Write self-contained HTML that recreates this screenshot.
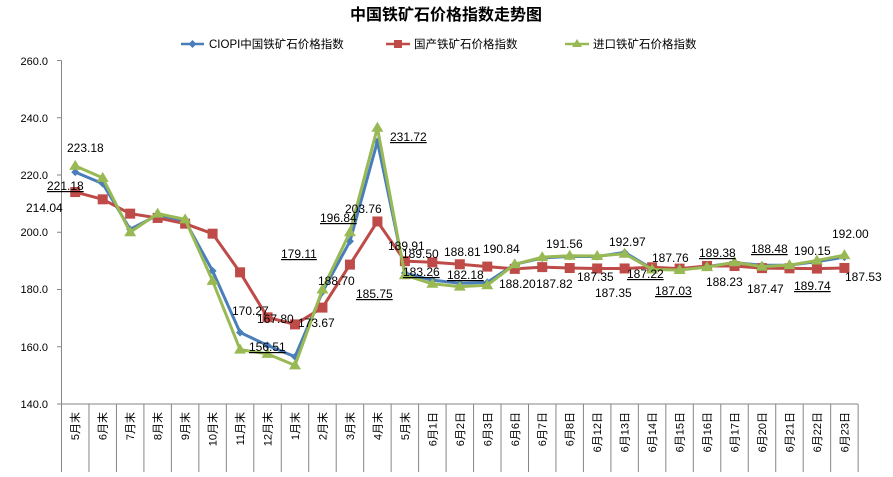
<!DOCTYPE html>
<html><head><meta charset="utf-8"><style>
body{margin:0;background:#fff}
svg text{font-family:"Liberation Sans","Noto Sans CJK SC",sans-serif;}
</style></head><body>
<svg id="s" width="893" height="472" xmlns="http://www.w3.org/2000/svg">
<rect width="893" height="472" fill="#fff"/>
<text x="446" y="20" font-size="16" font-weight="bold" text-anchor="middle" font-family="'Noto Serif CJK SC',serif">中国铁矿石价格指数走势图</text>
<g font-size="11.5">
<line x1="181" y1="44" x2="204" y2="44" stroke="#4a7ebb" stroke-width="2.5"/><path d="M192.5 40 l4 4 -4 4 -4 -4z" fill="#4a7ebb"/>
<text x="209" y="48">CIOPI中国铁矿石价格指数</text>
<line x1="386" y1="44" x2="410" y2="44" stroke="#be4b48" stroke-width="2.5"/><rect x="394" y="40" width="8" height="8" fill="#be4b48"/>
<text x="414" y="48">国产铁矿石价格指数</text>
<line x1="565" y1="44" x2="589" y2="44" stroke="#98b954" stroke-width="2.5"/><path d="M577 39 l5 8 h-10z" fill="#98b954"/>
<text x="593" y="48">进口铁矿石价格指数</text>
</g>
<g id="axes" stroke="#868686" stroke-width="1"></g>
<g font-size="11" text-anchor="end">
<text x="48" y="65">260.0</text><text x="48" y="122">240.0</text><text x="48" y="179">220.0</text><text x="48" y="236">200.0</text><text x="48" y="293">180.0</text><text x="48" y="351">160.0</text><text x="48" y="408">140.0</text>
</g>
<g id="xl" font-size="11"></g>
<g id="ser"></g>
<g font-size="12" fill="#000">
<text x="67" y="152">223.18</text>
<text x="47" y="190" text-decoration="underline">221.18</text>
<text x="26" y="212">214.04</text>
<text x="232" y="315">170.27</text>
<text x="257" y="323">167.80</text>
<text x="249" y="351" text-decoration="underline">156.51</text>
<text x="298" y="327">173.67</text>
<text x="281" y="258" text-decoration="underline">179.11</text>
<text x="320" y="222" text-decoration="underline">196.84</text>
<text x="318" y="285">188.70</text>
<text x="345" y="213">203.76</text>
<text x="356" y="298" text-decoration="underline">185.75</text>
<text x="390" y="141" text-decoration="underline">231.72</text>
<text x="388" y="250">189.91</text>
<text x="402" y="258">189.50</text>
<text x="444" y="256">188.81</text>
<text x="483" y="253">190.84</text>
<text x="403" y="276" text-decoration="underline">183.26</text>
<text x="447" y="279" text-decoration="underline">182.18</text>
<text x="499" y="288">188.20</text>
<text x="536" y="288">187.82</text>
<text x="546" y="248">191.56</text>
<text x="577" y="281">187.35</text>
<text x="595" y="297">187.35</text>
<text x="609" y="246">192.97</text>
<text x="627" y="278" text-decoration="underline">187.22</text>
<text x="652" y="262">187.76</text>
<text x="655" y="295" text-decoration="underline">187.03</text>
<text x="699" y="257" text-decoration="underline">189.38</text>
<text x="706" y="286">188.23</text>
<text x="751" y="253" text-decoration="underline">188.48</text>
<text x="747" y="293">187.47</text>
<text x="794" y="255">190.15</text>
<text x="794" y="290" text-decoration="underline">189.74</text>
<text x="832" y="238">192.00</text>
<text x="845" y="281">187.53</text>
</g>
</svg>
<script>
var NS="http://www.w3.org/2000/svg";
function el(p,t,a,txt){var e=document.createElementNS(NS,t);for(var k in a)e.setAttribute(k,a[k]);if(txt)e.textContent=txt;p.appendChild(e);return e;}
var cats=["5月末","6月末","7月末","8月末","9月末","10月末","11月末","12月末","1月末","2月末","3月末","4月末","5月末","6月1日","6月2日","6月3日","6月6日","6月7日","6月8日","6月12日","6月13日","6月14日","6月15日","6月16日","6月17日","6月20日","6月21日","6月22日","6月23日"];
var W=27.47,X0=61.5;
function X(i){return X0+W*(i+0.5);}
function Y(v){return 404-(v-140)*2.8625;}
var ax=document.getElementById("axes");
el(ax,"line",{x1:61.5,y1:60.5,x2:61.5,y2:404});
el(ax,"line",{x1:61.5,y1:404,x2:858,y2:404});
for(var v=140;v<=260;v+=20)el(ax,"line",{x1:57,y1:Y(v),x2:61.5,y2:Y(v)});
for(var i=0;i<=29;i++){var x=X0+W*i;el(ax,"line",{x1:x,y1:404,x2:x,y2:472});}
var xl=document.getElementById("xl");
cats.forEach(function(c,i){var x=X(i)+4;el(xl,"text",{x:0,y:0,transform:"translate("+x+",412) rotate(-90)","text-anchor":"end"},c);});
var blue=[221,217,201,206,204,186.5,165,160.5,156.51,179.11,196.84,231.72,185.75,183.26,182.18,182.5,188.8,191,191.56,191.5,192.97,187.22,187.03,188,189.38,188.48,188.5,189.74,191.3];
var red=[214.04,211.5,206.5,205,203,199.5,186,170.27,167.8,173.67,188.7,203.76,189.91,189.5,188.81,188,187.2,187.82,187.5,187.35,187.35,187.76,187.3,188.23,188.2,187.47,187.4,187.3,187.53];
var green=[223.18,219,200,206.5,204.5,183,159,157.5,153.5,180,200,236.5,185,182,181,181.5,188.8,191.3,191.8,191.7,192.5,187,186.8,187.8,189.5,188,188.5,190.15,192];
var g=document.getElementById("ser");
function line(d,c){el(g,"polyline",{points:d.map(function(v,i){return X(i)+","+Y(v)}).join(" "),fill:"none",stroke:c,"stroke-width":3,"stroke-linejoin":"round"});}
line(blue,"#4a7ebb");
blue.forEach(function(v,i){var x=X(i),y=Y(v);el(g,"path",{d:"M"+x+" "+(y-4)+"l4 4-4 4-4-4z",fill:"#4a7ebb"});});
line(red,"#be4b48");
red.forEach(function(v,i){el(g,"rect",{x:X(i)-5,y:Y(v)-5,width:10,height:10,fill:"#be4b48"});});
line(green,"#98b954");
green.forEach(function(v,i){var x=X(i),y=Y(v);el(g,"path",{d:"M"+x+" "+(y-6)+"l6 10h-12z",fill:"#98b954"});});
</script>
</body></html>
